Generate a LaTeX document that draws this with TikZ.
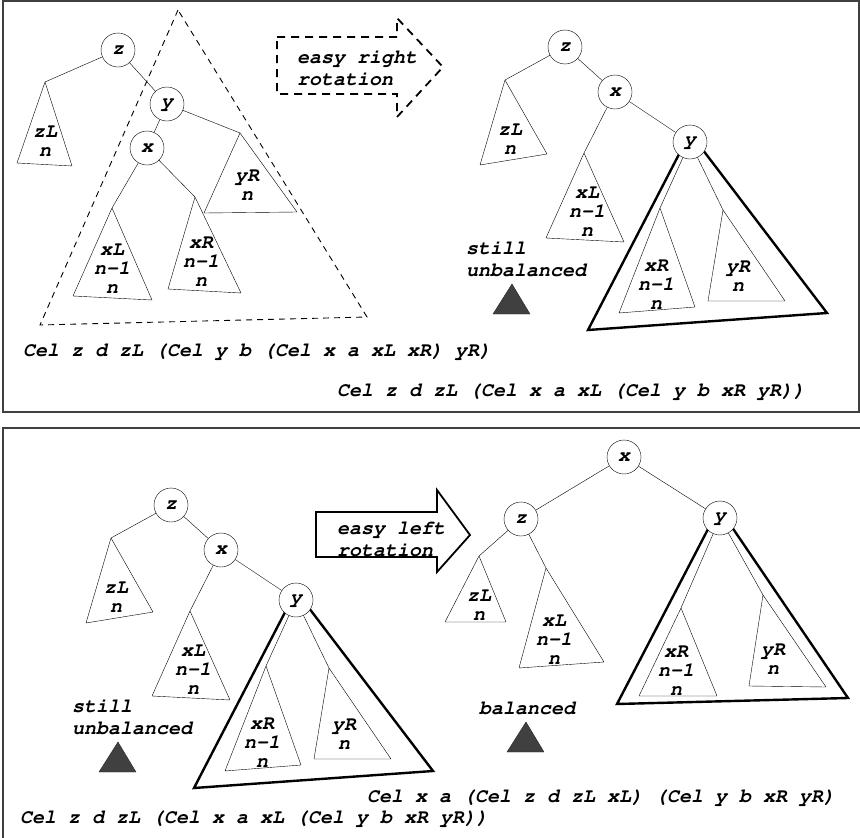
\documentclass[tikz,border=0pt]{standalone}
\usepackage[T1]{fontenc}
\newcommand{\codefont}{\fontfamily{pcr}\fontseries{b}\fontshape{sl}\selectfont}

% z -- x -- y after one easy right rotation (drawn twice)
\newcommand{\halfrotated}{%
  \draw[hug] (690,133) -- (588,330) -- (827,313) -- cycle;
  \node[vtx] (z) at (565,47) {z};
  \node[vtx] (x) at (615,92) {x};
  \node[vtx] (y) at (690,142) {y};
  \coordinate (zLtop) at (505,80);
  \coordinate (xLtop) at (584,153);
  \coordinate (xRtop) at (660,208);
  \coordinate (yRtop) at (723,210);
  \draw[sub] (zLtop) -- (480,165) -- (547,154) -- cycle;
  \draw[sub] (xLtop) -- (546,238) -- (624,242) -- cycle;
  \draw[sub] (xRtop) -- (619,313) -- (695,307) -- cycle;
  \draw[sub] (yRtop) -- (708,301) -- (785,301) -- cycle;
  \node[lbl] (zLlbl) at (510,139) {zL\\n};
  \node[lbl] (xLlbl) at (587,212) {xL\\n-1\\n};
  \node[lbl] (xRlbl) at (656,285) {xR\\n-1\\n};
  \node[lbl] (yRlbl) at (738,276) {yR\\n};
  \draw (z) -- (zLtop);
  \draw (z) -- (x);
  \draw (x) -- (xLtop);
  \draw (x) -- (y);
  \draw (y) -- (xRtop);
  \draw (y) -- (yRtop);
  \node[txt, align=left] (state) at (466,259) {still\\unbalanced};
  \draw[heap] (512,284) -- (493,314) -- (530,314) -- cycle;
}

\begin{document}
\begin{tikzpicture}[
    x=1pt, y=-1pt,
    font=\codefont\fontsize{20}{22}\selectfont,
    vtx/.style={draw, circle, fill=white, minimum size=34pt, inner sep=0pt},
    sub/.style={draw, line join=round},
    hug/.style={draw, line width=2.4pt, line join=miter},
    lbl/.style={align=center, inner sep=0pt, font=\codefont\fontsize{20}{19}\selectfont},
    txt/.style={anchor=west, inner sep=0pt},
    heap/.style={draw=black!85, fill=black!75},
    panel/.style={draw=black!75, line width=1.4pt},
    shiftarrow/.style={line width=1.8pt, line join=miter}
]
\useasboundingbox (0,0) rectangle (860,838);

% panels
\draw[panel] (3,1) rectangle (859,412);
\draw[panel] (3,428) rectangle (870,850);

% ---- top: before the right rotation
\draw[dashed, dash pattern=on 6pt off 5pt, line width=0.9pt] (178,10) -- (40,325) -- (367,317) -- cycle;
\node[vtx] (z) at (118,50) {z};
\node[vtx] (y) at (167,104) {y};
\node[vtx] (x) at (147,148) {x};
\coordinate (zLtop) at (45,82);
\coordinate (yRtop) at (240,133);
\coordinate (xLtop) at (112,208);
\coordinate (xRtop) at (195,197);
\draw[sub] (zLtop) -- (17,163) -- (72,166) -- cycle;
\draw[sub] (yRtop) -- (204,213) -- (297,212) -- cycle;
\draw[sub] (xLtop) -- (73,296) -- (152,300) -- cycle;
\draw[sub] (xRtop) -- (168,289) -- (241,293) -- cycle;
\node[lbl] (zLlbl) at (45,141) {zL\\n};
\node[lbl] (yRlbl) at (247,185) {yR\\n};
\node[lbl] (xLlbl) at (112,269) {xL\\n-1\\n};
\node[lbl] (xRlbl) at (201,262) {xR\\n-1\\n};
\draw (z) -- (zLtop);
\draw (z) -- (y);
\draw (y) -- (x);
\draw (y) -- (yRtop);
\draw (x) -- (xLtop);
\draw (x) -- (xRtop);

\draw[shiftarrow, dash pattern=on 8pt off 6pt] (277,37) -- (397,37) -- (397,18) -- (443,67)
    -- (397,117) -- (397,94) -- (277,94) -- cycle;
\node[txt, align=left] (rightrot) at (297,68) {easy right\\rotation};

\node[txt] (termA) at (23,352) {Cel z d zL (Cel y b (Cel x a xL xR) yR)};
\node[txt] (termB) at (337,392) {Cel z d zL (Cel x a xL (Cel y b xR yR))};

% ---- after the right rotation, and again as the start of the left one
\begin{scope}[name prefix=r-]
  \halfrotated
\end{scope}
\begin{scope}[name prefix=l-, shift={(-394,458)}]
  \halfrotated
\end{scope}

% ---- bottom: after the left rotation
\draw[shiftarrow] (316,512) -- (437,512) -- (437,490) -- (470,535)
    -- (437,572) -- (437,557) -- (316,557) -- cycle;
\node[txt, align=left] (leftrot) at (337,539) {easy left\\rotation};

\draw[hug] (719,508) -- (617,704) -- (848,698) -- cycle;
\node[vtx] (bx) at (624,457) {x};
\node[vtx] (bz) at (521,519) {z};
\node[vtx] (by) at (720,518) {y};
\coordinate (bzLtop) at (479,556);
\coordinate (bxLtop) at (546,568);
\coordinate (bxRtop) at (681,608);
\coordinate (byRtop) at (763,595);
\draw[sub] (bzLtop) -- (445,622) -- (506,622) -- cycle;
\draw[sub] (bxLtop) -- (519,668) -- (604,662) -- cycle;
\draw[sub] (bxRtop) -- (639,696) -- (717,696) -- cycle;
\draw[sub] (byRtop) -- (749,686) -- (826,687) -- cycle;
\node[lbl] (bzLlbl) at (479,605) {zL\\n};
\node[lbl] (bxLlbl) at (554,640) {xL\\n-1\\n};
\node[lbl] (bxRlbl) at (676,671) {xR\\n-1\\n};
\node[lbl] (byRlbl) at (773,659) {yR\\n};
\draw (bx) -- (bz);
\draw (bx) -- (by);
\draw (bz) -- (bzLtop);
\draw (bz) -- (bxLtop);
\draw (by) -- (bxRtop);
\draw (by) -- (byRtop);
\node[txt] (done) at (479,708) {balanced};
\draw[heap] (526,722) -- (507,752) -- (544,752) -- cycle;

\node[txt] (termC) at (367,798) {Cel x a (Cel z d zL xL) (Cel y b xR yR)};
\node[txt] (termD) at (20,819) {Cel z d zL (Cel x a xL (Cel y b xR yR))};
\end{tikzpicture}
\end{document}
